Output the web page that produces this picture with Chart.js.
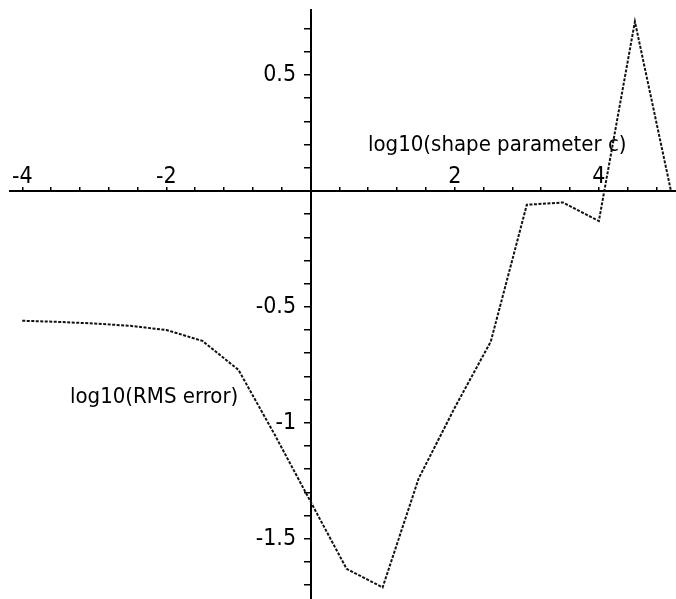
<!DOCTYPE html>
<html>
<head>
<meta charset="utf-8">
<script src="https://cdn.jsdelivr.net/npm/chart.js@4/dist/chart.umd.min.js"></script>
<style>
  html, body { margin: 0; padding: 0; background: #fff; }
  #wrap { width: 676px; height: 599px; }
</style>
</head>
<body>
<div id="wrap"><canvas id="c" width="676" height="599"></canvas></div>
<script>
// ---- data ----
const logC = [-4, -3.5, -3, -2.5, -2, -1.5, -1, -0.5, 0, 0.5, 1, 1.5, 2, 2.5, 3, 3.5, 4, 4.5, 5];
const logRms = [-0.56, -0.565, -0.572, -0.582, -0.60, -0.647, -0.772, -1.05, -1.34, -1.63, -1.71, -1.24, -0.935, -0.65, -0.06, -0.05, -0.13, 0.73, 0.0];

const xTickValues = [-4, -3.6, -3.2, -2.8, -2.4, -2, -1.6, -1.2, -0.8, -0.4, 0.4, 0.8, 1.2, 1.6, 2, 2.4, 2.8, 3.2, 3.6, 4, 4.4, 4.8];
const xTickLabels = ['-4', '', '', '', '', '-2', '', '', '', '', '', '', '', '', '2', '', '', '', '', '4', '', ''];
const yTickValues = [-1.7, -1.6, -1.5, -1.4, -1.3, -1.2, -1.1, -1, -0.9, -0.8, -0.7, -0.6, -0.5, -0.4, -0.3, -0.2, -0.1, 0.1, 0.2, 0.3, 0.4, 0.5, 0.6, 0.7];
const yTickLabels = ['', '', '-1.5', '', '', '', '', '-1', '', '', '', '', '-0.5', '', '', '', '', '', '', '', '', '0.5', '', ''];

const xAxisTitle = 'log10(shape parameter c)';
const yAxisTitle = 'log10(RMS error)';

// ---- presentation ----
const FONT_FAMILY = "'DejaVu Sans Condensed', 'Liberation Sans Narrow', sans-serif";
const titleAnchors = [
  { text: xAxisTitle, x: 2.59, y: 0.196 },
  { text: yAxisTitle, x: -2.17, y: -0.89 }
];
const Y_LABEL_GAP = '\u2002\u2009'; // keeps y tick labels clear of the tick marks

const pointsData = logC.map((v, i) => ({ x: v, y: logRms[i] }));

function labelFor(values, labels, v) {
  for (let i = 0; i < values.length; i++) {
    if (Math.abs(values[i] - v) < 1e-6) return labels[i];
  }
  return '';
}

function noScalePadding(scale) {
  scale.paddingTop = 0; scale.paddingBottom = 0;
  scale.paddingLeft = 0; scale.paddingRight = 0;
}

const axisTitlePlugin = {
  id: 'axisTitles',
  afterDraw(chart) {
    const ctx = chart.ctx;
    const xs = chart.scales.x, ys = chart.scales.y;
    ctx.save();
    ctx.fillStyle = '#000';
    ctx.font = '22px ' + FONT_FAMILY;
    ctx.textAlign = 'center';
    ctx.textBaseline = 'middle';
    titleAnchors.forEach(t => {
      ctx.fillText(t.text, xs.getPixelForValue(t.x), ys.getPixelForValue(t.y));
    });
    ctx.restore();
  }
};

new Chart(document.getElementById('c'), {
  type: 'scatter',
  data: {
    datasets: [{
      data: pointsData,
      showLine: true,
      borderColor: '#111',
      borderWidth: 2,
      borderDash: [3, 1.5],
      pointRadius: 0,
      fill: false,
      tension: 0
    }]
  },
  options: {
    responsive: false,
    animation: false,
    layout: { padding: { left: 10, top: 10, right: 0, bottom: 0 } },
    plugins: { legend: { display: false }, tooltip: { enabled: false }, title: { display: false } },
    scales: {
      x: {
        type: 'linear',
        position: { y: 0 },
        min: -4.17,
        max: 5.07,
        afterBuildTicks: s => { s.ticks = xTickValues.map(v => ({ value: v })); },
        afterFit: noScalePadding,
        ticks: {
          autoSkip: false,
          maxRotation: 0,
          color: '#000',
          padding: -23,
          font: { family: FONT_FAMILY, size: 23 },
          callback: v => labelFor(xTickValues, xTickLabels, v)
        },
        grid: { drawOnChartArea: false, drawTicks: true, tickLength: -5, color: '#000', lineWidth: 1.5 },
        border: { display: true, color: '#000', width: 2 }
      },
      y: {
        type: 'linear',
        position: { x: 0 },
        min: -1.76,
        max: 0.78,
        afterBuildTicks: s => { s.ticks = yTickValues.map(v => ({ value: v })); },
        afterFit: noScalePadding,
        ticks: {
          autoSkip: false,
          color: '#000',
          padding: 3,
          font: { family: FONT_FAMILY, size: 23 },
          callback: v => { const t = labelFor(yTickValues, yTickLabels, v); return t ? t + Y_LABEL_GAP : ''; }
        },
        grid: { drawOnChartArea: false, drawTicks: true, tickLength: 6, color: '#000', lineWidth: 1.5 },
        border: { display: true, color: '#000', width: 2 }
      }
    }
  },
  plugins: [axisTitlePlugin]
});
</script>
</body>
</html>
